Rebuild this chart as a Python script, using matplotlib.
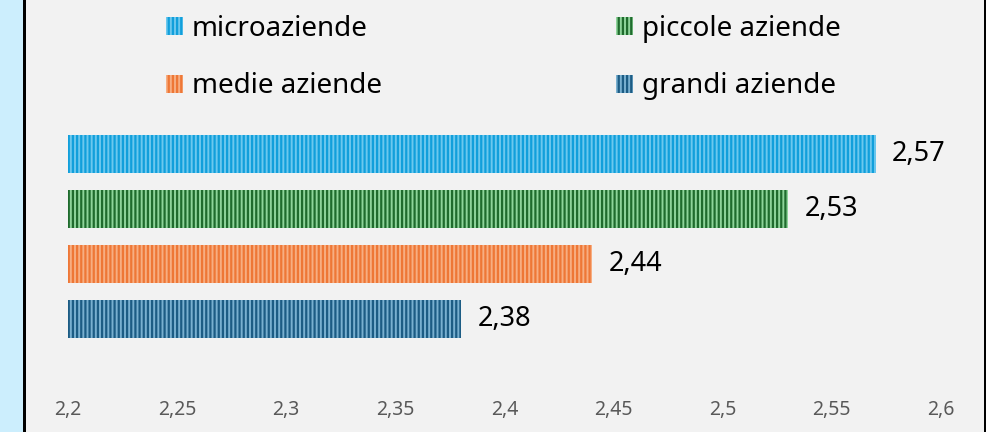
import matplotlib
matplotlib.use("Agg")
import matplotlib.pyplot as plt
from matplotlib.patches import Rectangle, Patch
import matplotlib.ticker as mticker

plt.rcParams['font.family'] = ['Noto Sans', 'DejaVu Sans']
plt.rcParams['hatch.linewidth'] = 1.6

categories = ["microaziende", "piccole aziende", "medie aziende", "grandi aziende"]
values = [2.57, 2.53, 2.44, 2.38]
light_colors = ["#6CC8EE", "#8ED49A", "#F7AE82", "#79B0D0"]
dark_colors = ["#119FDB", "#1F6B2D", "#EE7736", "#1C5C84"]
xticks = [2.2, 2.25, 2.3, 2.35, 2.4, 2.45, 2.5, 2.55, 2.6]

W, H = 987, 432
fig = plt.figure(figsize=(W / 100, H / 100), dpi=100)
fig.patch.set_facecolor("#CCEEFD")
# panel background and borders
fig.add_artist(Rectangle((25 / W, 0), (985 - 25) / W, 1, transform=fig.transFigure,
                         facecolor="#F2F2F2", edgecolor="none", zorder=0))
fig.add_artist(Rectangle((23 / W, 0), 2.5 / W, 1, transform=fig.transFigure,
                         facecolor="black", edgecolor="none", zorder=1))
fig.add_artist(Rectangle((984 / W, 0), 2 / W, 1, transform=fig.transFigure,
                         facecolor="black", edgecolor="none", zorder=1))

ax_left, ax_right = 68, 941
ax_top, ax_bot = 110, 393
ax = fig.add_axes([ax_left / W, 1 - ax_bot / H, (ax_right - ax_left) / W, (ax_bot - ax_top) / H])
ax.set_facecolor("none")

n = len(categories)
ypos = [n - 1 - i for i in range(n)]
for y, v, lc, dc in zip(ypos, values, light_colors, dark_colors):
    ax.barh(y, v - 2.2, left=2.2, height=0.69, color=lc, edgecolor=dc, linewidth=0,
            hatch="||||")
    ax.annotate(f"{v:.2f}".replace(".", ","), (v, y), xytext=(12, 0), textcoords="offset points",
                va="center", ha="left", fontsize=19.5, color="black")

px_per_unit = 55.0
y_bottom_center = 319
ax.set_ylim(-(ax_bot - y_bottom_center) / px_per_unit, (y_bottom_center - ax_top) / px_per_unit)
ax.set_xlim(2.2, 2.6)
ax.set_xticks(xticks)
ax.xaxis.set_major_formatter(mticker.FuncFormatter(lambda x, p: f"{x:g}".replace(".", ",")))
ax.tick_params(axis="x", length=0, pad=5, labelsize=14, labelcolor="#595959")
ax.set_yticks([])
for s in ax.spines.values():
    s.set_visible(False)

handles = [Patch(facecolor=lc, edgecolor=dc, linewidth=0, hatch="||||", label=c)
           for c, lc, dc in zip(categories, light_colors, dark_colors)]
common = dict(frameon=False, fontsize=20, handlelength=0.62, handleheight=0.62,
              handletextpad=0.32, labelspacing=1.06, borderpad=0, borderaxespad=0,
              loc="upper left")
fig.legend(handles=[handles[0], handles[2]], bbox_to_anchor=(166 / W, 1 - 15 / H), **common)
fig.legend(handles=[handles[1], handles[3]], bbox_to_anchor=(616 / W, 1 - 15 / H), **common)

fig.savefig("out.png", dpi=100, facecolor=fig.get_facecolor())
